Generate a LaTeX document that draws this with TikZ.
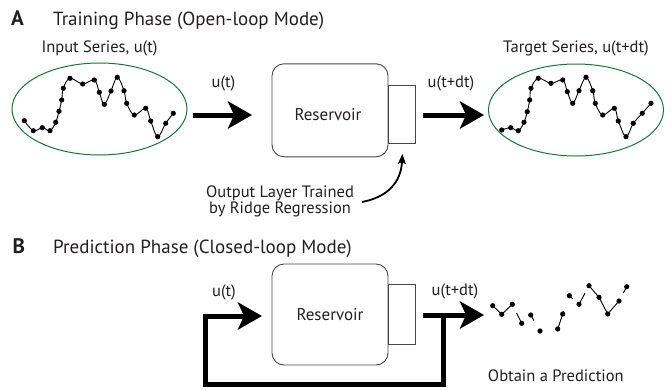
\documentclass[tikz,border=0pt]{standalone}
\usepackage{fontspec}
\setmainfont{PT Sans}
\usetikzlibrary{arrows.meta,shapes.geometric,calc}
\definecolor{ellgreen}{RGB}{25,115,65}
\definecolor{boxgray}{RGB}{70,70,70}
\definecolor{txt}{RGB}{35,31,32}
\tikzset{
  lbl/.style={font=\fontsize{16.5}{19}\selectfont, text=txt, inner sep=0pt, anchor=base},
  ttl/.style={font=\fontsize{19}{21}\selectfont, text=txt, inner sep=0pt, anchor=base west},
  letter/.style={font=\fontsize{21}{23}\selectfont\bfseries, text=txt, inner sep=0pt, anchor=base west},
  series/.style={draw=ellgreen, line width=1pt, ellipse, minimum width=175pt, minimum height=92pt, inner sep=0pt},
  resbox/.style={draw=boxgray, line width=0.9pt, rounded corners=12pt, minimum width=116pt, minimum height=93pt, inner sep=0pt},
  outbox/.style={draw=boxgray, line width=0.9pt, minimum width=27pt, minimum height=58pt, inner sep=0pt},
  bigarrow/.style={line width=5pt, -{Stealth[length=24pt,width=27pt,inset=6pt]}},
  loopline/.style={line width=5pt, line join=miter},
  curve/.style={line width=0.9pt},
  dot/.style={fill=black},
}
\begin{document}
\begin{tikzpicture}[x=1pt,y=-1pt]
\useasboundingbox (0,0) rectangle (672,389);
% ---------- Panel A ----------
\node[letter] (A) at (11,25) {A};
\node[ttl] (titleA) at (53,25) {Training Phase (Open-loop Mode)};
\node[lbl] (inlbl) at (99.5,52) {Input Series, u(t)};
\node[lbl] (tglbl) at (576,52) {Target Series, u(t+dt)};
\node[series] (inA) at (99.5,109) {};
\node[series] (tgA) at (576,110) {};
\node[resbox] (resA) at (330,110.3) {};
\node[lbl, font=\fontsize{17}{19}\selectfont] (resAt) at (328,120) {Reservoir};
\node[outbox, anchor=west] (outA) at (resA.east |- 0,114) {};
% input series curve
\draw[curve] plot[smooth, tension=0.6] coordinates {(24.3,120.7) (33.3,130.7) (42.3,127.7) (50,130.7) (55.7,122.3) (59,111.3) (61.7,100) (63.3,88.3) (70,78.3) (82.7,84) (94.3,80) (99.3,92.3) (104.3,104.3) (111,91) (117.3,77.3) (124,90.7) (126.7,103.3) (134.3,115) (145.7,108.3) (150.7,121) (157.7,136.7) (165.7,123.3) (173.3,113.3)};
\foreach \p in {(24.3,120.7), (33.3,130.7), (42.3,127.7), (50,130.7), (55.7,122.3), (59,111.3), (61.7,100), (63.3,88.3), (70,78.3), (82.7,84), (94.3,80), (99.3,92.3), (104.3,104.3), (111,91), (117.3,77.3), (124,90.7), (126.7,103.3), (134.3,115), (145.7,108.3), (150.7,121), (157.7,136.7), (165.7,123.3), (173.3,113.3)}
  \fill[dot] \p circle (2.6pt);
% target series curve
\draw[curve] plot[smooth, tension=0.6] coordinates {(501.7,130) (510.7,127.7) (518.3,130.7) (524,122.3) (527.3,111.7) (529.7,100) (531,88.3) (538.3,78.3) (551,83.3) (562.7,80) (567.3,91.7) (572.7,103.3) (579,90.7) (586,77.3) (592.7,90.7) (595.3,103.3) (602.7,115) (614.3,108.3) (618.3,121) (626,136.7) (633.3,123.3) (642.3,113.3) (651,103.3)};
\foreach \p in {(501.7,130), (510.7,127.7), (518.3,130.7), (524,122.3), (527.3,111.7), (529.7,100), (531,88.3), (538.3,78.3), (551,83.3), (562.7,80), (567.3,91.7), (572.7,103.3), (579,90.7), (586,77.3), (592.7,90.7), (595.3,103.3), (602.7,115), (614.3,108.3), (618.3,121), (626,136.7), (633.3,123.3), (642.3,113.3), (651,103.3)}
  \fill[dot] \p circle (2.6pt);
% arrows A
\coordinate (a1s) at (193,115);
\coordinate (a1e) at (252,115);
\draw[bigarrow] (a1s) -- (a1e);
\node[lbl] (uA) at (223.5,87.3) {u(t)};
\coordinate (a2s) at (423,115);
\coordinate (a2e) at (484,115);
\draw[bigarrow] (a2s) -- (a2e);
\node[lbl] (uAdt) at (451,87.3) {u(t+dt)};
% ridge annotation
\node[lbl, align=center, anchor=base, font=\fontsize{16.5}{16}\selectfont] (ridge) at (280,213.5) {Output Layer Trained\\by Ridge Regression};
\draw[line width=1.8pt, -{Stealth[length=10pt,width=8pt,inset=2pt]}] (362,202) .. controls (388,197) and (401,182) .. (outA.south |- 0,154);
% ---------- Panel B ----------
\node[letter] (B) at (12.5,253.3) {B};
\node[ttl] (titleB) at (53,253.3) {Prediction Phase (Closed-loop Mode)};
\node[resbox, minimum height=101pt] (resB) at (330,314.5) {};
\node[lbl, font=\fontsize{17}{19}\selectfont] (resBt) at (330,320) {Reservoir};
\node[outbox, minimum height=60pt, anchor=west] (outB) at (resB.east |- 0,314) {};
\coordinate (b2s) at (423,315);
\coordinate (b2e) at (484,315);
\coordinate (junc) at (443.3,315);
\draw[bigarrow] (b2s) -- (b2e);
\coordinate (c1) at (443.3,384.5);
\coordinate (c2) at (205.5,384.5);
\coordinate (c3) at (205.5,316);
\coordinate (b1e) at (262,316);
\draw[loopline] (junc) -- (c1) -- (c2) -- (c3) -- ++(2,0);
\draw[bigarrow] ([xshift=-2.5pt]c3) -- (b1e);
\node[lbl] (uB) at (224,296) {u(t)};
\node[lbl] (uBdt) at (455,295) {u(t+dt)};
% prediction dots
\coordinate (p1) at (492.7,305.7);
\coordinate (p2) at (501.7,314.3);
\coordinate (p3) at (512.3,304.3);
\coordinate (p4) at (521.7,323.3);
\coordinate (p5) at (530.7,315);
\coordinate (p6) at (540,331);
\coordinate (p7) at (557.7,329);
\coordinate (p8) at (562.7,314);
\coordinate (p9) at (569.3,295.7);
\coordinate (p10) at (579,304.3);
\coordinate (p11) at (589,285.7);
\coordinate (p12) at (599,297.3);
\coordinate (p13) at (607.7,314);
\coordinate (p14) at (619,301);
\coordinate (p15) at (626.7,286.7);
\draw[curve] (p1) -- (p2) -- (p3);
\draw[curve] ($(p3)!0.45!(p4)$) -- (p4);
\draw[curve] (p5) -- ($(p5)!0.35!(p6)$);
\draw[curve] (p7) -- (p8) -- ($(p8)!0.15!(p9)$);
\draw[curve] (p9) -- ($(p9)!0.35!(p10)$);
\draw[curve] (p10) -- ($(p10)!0.6!(p11)$);
\draw[curve] (p11) -- (p12) -- (p13) -- (p14);
\draw[curve] ($(p14)!0.55!(p15)$) -- ($(p14)!0.85!(p15)$);
\foreach \i in {1,...,15} \fill[dot] (p\i) circle (2.6pt);
\node[lbl] (obtain) at (555.8,381.7) {Obtain a Prediction};
\end{tikzpicture}
\end{document}
